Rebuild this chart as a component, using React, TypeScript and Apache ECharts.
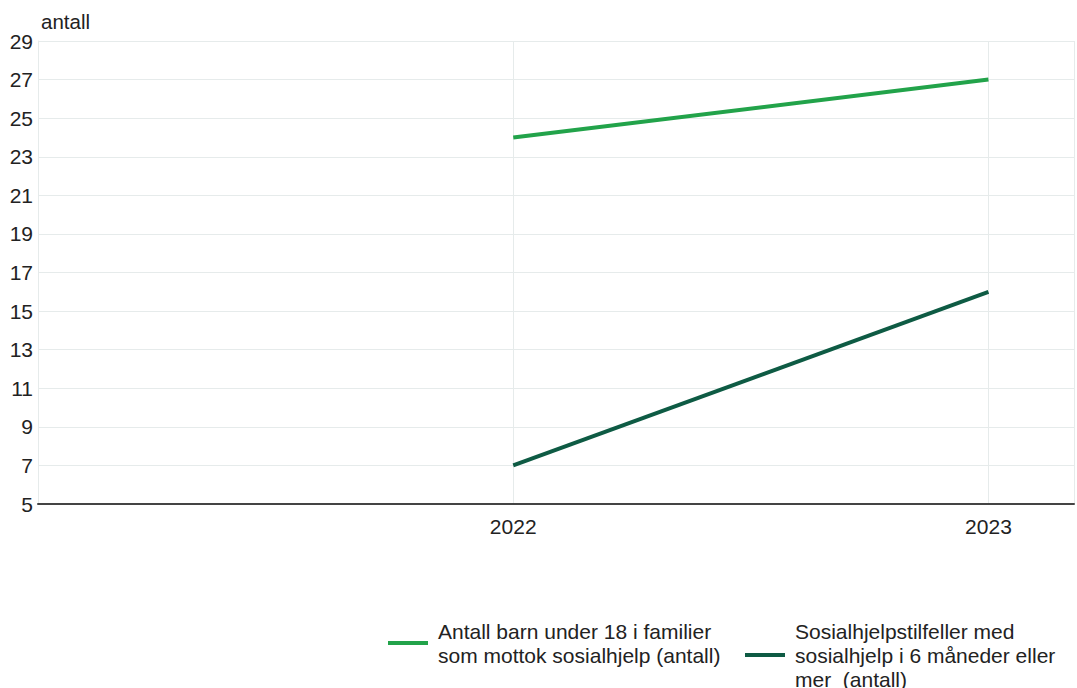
import React, { useEffect, useRef } from "react";
import * as echarts from "echarts";

const years = [2022, 2023];
const barnValues = [24, 27];
const langvarigValues = [7, 16];
const seriesNames = [
  "Antall barn under 18 i familier\nsom mottok sosialhjelp (antall)",
  "Sosialhjelpstilfeller med\nsosialhjelp i 6 måneder eller\nmer  (antall)",
];
const colors = ["#22a34a", "#0e5b44"];

export default function App() {
  const ref = useRef<HTMLDivElement>(null);
  useEffect(() => {
    if (!ref.current) return;
    const chart = echarts.init(ref.current, null, { renderer: "svg" });
    const font = "'Liberation Sans', Arial, sans-serif";
    const legendCommon = {
      orient: "horizontal",
      top: 619,
      padding: 0,
      icon: "path://M0,0L40,0L40,4L0,4Z M45,0L45,4L45,4Z",
      itemWidth: 45,
      itemHeight: 4,
      itemGap: 10,
      textStyle: { fontSize: 21, lineHeight: 24, color: "#222", fontFamily: font },
    };
    chart.setOption({
      animation: false,
      backgroundColor: "#ffffff",
      textStyle: { fontFamily: font },
      grid: { left: 38, right: 0, top: 41, bottom: 184, containLabel: false },
      graphic: [
        {
          type: "text",
          left: 41,
          top: 11,
          style: { text: "antall", fontSize: 20.5, fill: "#222", fontFamily: font },
        },
      ],
      legend: [
        { ...legendCommon, left: 388, data: [seriesNames[0]] },
        { ...legendCommon, left: 745, data: [seriesNames[1]] },
      ],
      xAxis: {
        type: "value",
        min: 2021,
        max: 2023.18,
        interval: 1,
        axisLine: { show: true, lineStyle: { color: "#444", width: 2 } },
        axisTick: { show: false },
        axisLabel: {
          fontSize: 21,
          color: "#222",
          margin: 12,
          formatter: (v: number) => (v === 2022 || v === 2023 ? String(v) : ""),
        },
        splitLine: { show: true, lineStyle: { color: "#e6ebeb", width: 1 } },
      },
      yAxis: {
        type: "value",
        min: 5,
        max: 29,
        interval: 2,
        axisLine: { show: true, lineStyle: { color: "#e6ebeb", width: 1 } },
        axisTick: { show: false },
        axisLabel: { fontSize: 21, color: "#222", margin: 5 },
        splitLine: { show: true, lineStyle: { color: "#e6ebeb", width: 1 } },
      },
      series: [
        {
          name: seriesNames[0],
          type: "line",
          data: years.map((y, i) => [y, barnValues[i]]),
          showSymbol: false,
          lineStyle: { width: 4, color: colors[0] },
          itemStyle: { color: colors[0] },
        },
        {
          name: seriesNames[1],
          type: "line",
          data: years.map((y, i) => [y, langvarigValues[i]]),
          showSymbol: false,
          lineStyle: { width: 4, color: colors[1] },
          itemStyle: { color: colors[1] },
        },
      ],
    });
    return () => chart.dispose();
  }, []);
  return (
    <div
      ref={ref}
      style={{ position: "fixed", left: 0, top: 0, width: 1077, height: 688 }}
    />
  );
}
